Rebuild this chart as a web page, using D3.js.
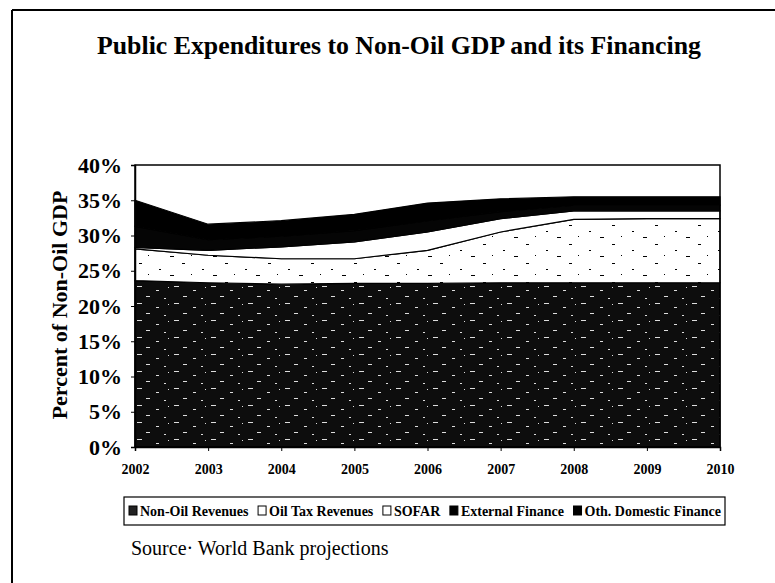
<!DOCTYPE html>
<html>
<head>
<meta charset="utf-8">
<script src="https://cdn.jsdelivr.net/npm/d3@7"></script>
<style>
  body { margin: 0; background: #fff; }
  text { font-family: "Liberation Serif", "Times New Roman", serif; }
</style>
</head>
<body>
<div id="chart-area"></div>
<script>
const years = [2002, 2003, 2004, 2005, 2006, 2007, 2008, 2009, 2010];
const nonOilRevenues     = [23.6, 23.3, 23.1, 23.2, 23.2, 23.3, 23.3, 23.3, 23.3];
const oilTaxRevenues     = [4.5, 3.9, 3.6, 3.5, 4.7, 7.2, 9.0, 9.1, 9.1];
const sofar              = [0.2, 0.7, 1.7, 2.4, 2.6, 1.9, 1.2, 1.1, 1.1];
const externalFinance    = [3.0, 1.5, 1.5, 1.6, 1.6, 1.0, 0.8, 0.8, 0.8];
const othDomesticFinance = [3.7, 2.2, 2.2, 2.3, 2.5, 1.8, 1.2, 1.2, 1.2];
const seriesNames = ["Non-Oil Revenues", "Oil Tax Revenues", "SOFAR", "External Finance", "Oth. Domestic Finance"];
const yTicks = [0, 5, 10, 15, 20, 25, 30, 35, 40];

const svgWidth = 775, svgHeight = 583;
const margin = { left: 135, right: 55, top: 165, bottom: 136 };
const width = svgWidth - margin.left - margin.right;
const height = svgHeight - margin.top - margin.bottom;

const table = years.map((yr, i) => ({
  year: yr,
  "Non-Oil Revenues": nonOilRevenues[i],
  "Oil Tax Revenues": oilTaxRevenues[i],
  "SOFAR": sofar[i],
  "External Finance": externalFinance[i],
  "Oth. Domestic Finance": othDomesticFinance[i]
}));

const fills = {
  "Non-Oil Revenues": "url(#scan)",
  "Oil Tax Revenues": "url(#specks)",
  "SOFAR": "#fff",
  "External Finance": "#050505",
  "Oth. Domestic Finance": "#000"
};
const iconFills = {
  "Non-Oil Revenues": "#222",
  "Oil Tax Revenues": "#fff",
  "SOFAR": "#fff",
  "External Finance": "#000",
  "Oth. Domestic Finance": "#000"
};

const svg = d3.select("#chart-area")
              .append("svg")
              .attr("width", svgWidth)
              .attr("height", svgHeight);

// patterns to imitate the scanned fills
const defs = svg.append("defs");
const scan = defs.append("pattern")
                 .attr("id", "scan")
                 .attr("patternUnits", "userSpaceOnUse")
                 .attr("width", 37).attr("height", 17);
scan.append("rect").attr("width", 37).attr("height", 17).attr("fill", "#0d0d0d");
[[2, 2, 5], [21, 6, 3], [11, 12, 4], [29, 14, 2], [33, 3, 1]].forEach(([x, y, w]) => {
  scan.append("rect").attr("x", x).attr("y", y).attr("width", w).attr("height", 1).attr("fill", "#ddd");
});
const specks = defs.append("pattern")
                   .attr("id", "specks")
                   .attr("patternUnits", "userSpaceOnUse")
                   .attr("width", 43).attr("height", 19);
specks.append("rect").attr("width", 43).attr("height", 19).attr("fill", "#fff");
[[4, 3, 3], [24, 9, 2], [35, 15, 4], [13, 14, 1]].forEach(([x, y, w]) => {
  specks.append("rect").attr("x", x).attr("y", y).attr("width", w).attr("height", 1).attr("fill", "#000");
});

// outer frame (scan edge)
svg.append("line").attr("x1", 12).attr("x2", 12).attr("y1", 10).attr("y2", svgHeight)
   .attr("stroke", "#000").attr("stroke-width", 2);
svg.append("line").attr("x1", 12).attr("x2", svgWidth).attr("y1", 10).attr("y2", 10)
   .attr("stroke", "#000").attr("stroke-width", 2);

svg.append("text")
   .attr("x", 97)
   .attr("y", 54)
   .attr("font-size", "25px")
   .attr("font-weight", "bold")
   .attr("textLength", 604)
   .attr("lengthAdjust", "spacingAndGlyphs")
   .text("Public Expenditures to Non-Oil GDP and its Financing");

const g = svg.append("g")
             .attr("transform", `translate(${margin.left},${margin.top})`);

const x = d3.scaleLinear()
            .domain([2002, 2010])
            .range([0, width]);
const y = d3.scaleLinear()
            .domain([0, 40])
            .range([height, 0]);

const stack = d3.stack().keys(seriesNames);
const layers = stack(table);

const area = d3.area()
               .x(d => x(d.data.year))
               .y0(d => y(d[0]))
               .y1(d => y(d[1]));

g.selectAll("path.layer")
 .data(layers)
 .enter()
 .append("path")
   .attr("class", "layer")
   .attr("d", area)
   .attr("fill", d => fills[d.key])
   .attr("stroke", "#000")
   .attr("stroke-width", 1.2);

// plot frame
g.append("rect")
 .attr("width", width)
 .attr("height", height)
 .attr("fill", "none")
 .attr("stroke", "#000")
 .attr("stroke-width", 1.5);

const yAxisCall = d3.axisLeft(y)
                    .tickValues(yTicks)
                    .tickSize(4)
                    .tickPadding(9)
                    .tickFormat(d => d + "%");
const yAxis = g.append("g").call(yAxisCall);
yAxis.selectAll("text").attr("font-size", "22px").attr("font-weight", "bold").attr("fill", "#000");
yAxis.select(".domain").attr("stroke-width", 1.5);

const xAxisCall = d3.axisBottom(x)
                    .tickValues(years)
                    .tickSize(4)
                    .tickPadding(13)
                    .tickFormat(d3.format("d"));
const xAxis = g.append("g")
               .attr("transform", `translate(0, ${height})`)
               .call(xAxisCall);
xAxis.selectAll("text").attr("font-size", "14px").attr("font-weight", "bold").attr("fill", "#000");
xAxis.select(".domain").attr("stroke-width", 1.5);

svg.append("text")
   .attr("transform", "translate(67, 305) rotate(-90)")
   .attr("text-anchor", "middle")
   .attr("font-size", "22px")
   .attr("font-weight", "bold")
   .text("Percent of Non-Oil GDP");

// legend: items spread to fill the box
const legend = svg.append("g");
legend.append("rect")
      .attr("x", 124).attr("y", 497)
      .attr("width", 601).attr("height", 28)
      .attr("fill", "#fff")
      .attr("stroke", "#000")
      .attr("stroke-width", 1.2);
const items = seriesNames.map(name => {
  const icon = legend.append("rect")
                     .attr("y", 506)
                     .attr("width", 8).attr("height", 9)
                     .attr("fill", iconFills[name])
                     .attr("stroke", "#000")
                     .attr("stroke-width", 1);
  const t = legend.append("text")
                  .attr("y", 516)
                  .attr("font-size", "14px")
                  .attr("font-weight", "bold")
                  .text(name);
  return { icon, t, w: 11 + t.node().getComputedTextLength() };
});
const legendStart = 129, legendEnd = 721;
const gap = (legendEnd - legendStart - d3.sum(items, d => d.w)) / (items.length - 1);
let lx = legendStart;
items.forEach(d => {
  d.icon.attr("x", lx);
  d.t.attr("x", lx + 11);
  lx += d.w + gap;
});

svg.append("text")
   .attr("x", 131)
   .attr("y", 555)
   .attr("font-size", "20px")
   .text("Source\u00b7 World Bank projections");
</script>
</body>
</html>
